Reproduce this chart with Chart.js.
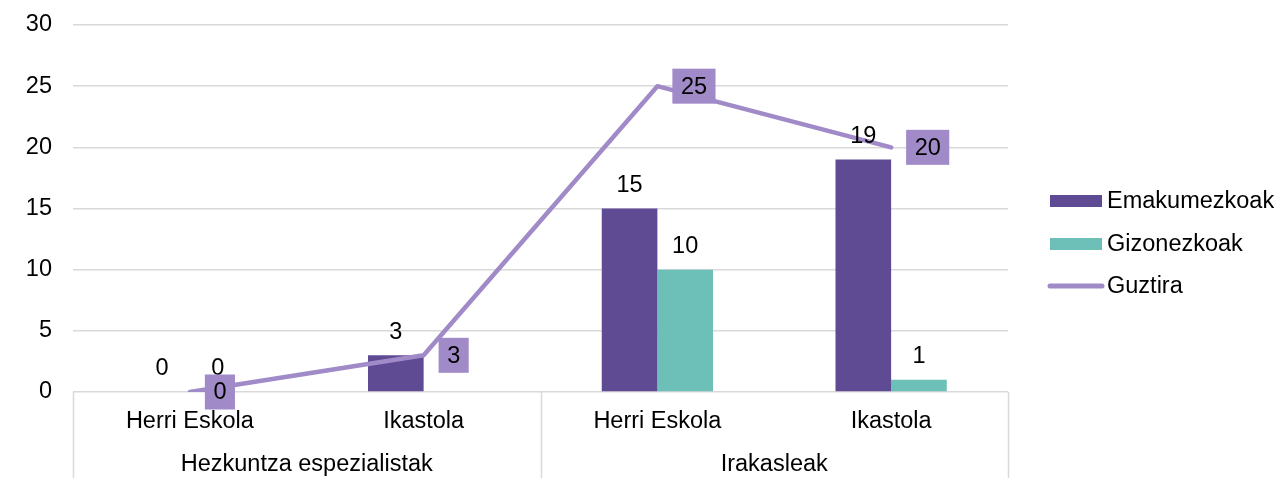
<!DOCTYPE html>
<html>
<head>
<meta charset="utf-8">
<script src="https://cdn.jsdelivr.net/npm/chart.js@4/dist/chart.umd.min.js"></script>
<style>
html,body{margin:0;padding:0;background:#fff;}
#c{display:block;}
</style>
</head>
<body>
<canvas id="c" width="1280" height="484"></canvas>
<script>
const subCategories = ['Herri Eskola', 'Ikastola', 'Herri Eskola', 'Ikastola'];
const groupLabels = ['Hezkuntza espezialistak', 'Irakasleak'];
const groupSpans = [2, 2];
const emakumezkoak = [0, 3, 15, 19];
const gizonezkoak = [0, 0, 10, 1];
const guztira = [0, 3, 25, 20];
const yTicks = [0, 5, 10, 15, 20, 25, 30];
const seriesNames = ['Emakumezkoak', 'Gizonezkoak', 'Guztira'];

const FONT = "'Liberation Sans', Arial, sans-serif";
const FS = 23.5;
const C_EMA = '#5F4A94';
const C_GIZ = '#6CC0B7';
const C_TOT = '#A08AC8';
const C_GRID = '#D9D9D9';

const customPlugin = {
  id: 'custom',
  afterDatasetsDraw(chart) {
    const ctx = chart.ctx;
    const x = chart.scales.x;
    const area = chart.chartArea;
    ctx.save();
    ctx.font = FS + 'px ' + FONT;
    ctx.textAlign = 'center';
    ctx.textBaseline = 'middle';
    // line label boxes (computed first for collision checks)
    const lmeta = chart.getDatasetMeta(2);
    const boxes = lmeta.data.map((el, i) => {
      const t = String(guztira[i]);
      const w = ctx.measureText(t).width + 17;
      const h = 35;
      return { t, x: el.x + 15, y: el.y - h / 2, w, h, cy: el.y };
    });
    // bar labels (skip if label centre lies inside a line label box)
    ctx.fillStyle = '#000';
    [0, 1].forEach(di => {
      const meta = chart.getDatasetMeta(di);
      meta.data.forEach((el, i) => {
        const v = String(chart.data.datasets[di].data[i]);
        const lx = el.x, ly = el.y - 23;
        const hit = boxes.some(b => lx > b.x && lx < b.x + b.w && ly > b.y && ly < b.y + b.h);
        if (!hit) ctx.fillText(v, lx, ly);
      });
    });
    boxes.forEach(b => {
      ctx.fillStyle = C_TOT;
      ctx.fillRect(b.x, b.y, b.w, b.h);
      ctx.fillStyle = '#000';
      ctx.fillText(b.t, b.x + b.w / 2, b.cy + 1);
    });
    // x axis categories
    ctx.strokeStyle = C_GRID;
    ctx.lineWidth = 1.5;
    const bottom = area.bottom;
    const catW = (area.right - area.left) / subCategories.length;
    ctx.fillStyle = '#000';
    subCategories.forEach((s, i) => {
      ctx.fillText(s, x.getPixelForValue(i), bottom + 30);
    });
    let start = 0;
    const seps = [area.left];
    groupLabels.forEach((g, gi) => {
      const end = start + groupSpans[gi];
      const gx = area.left + catW * (start + end) / 2;
      ctx.fillText(g, gx, bottom + 73);
      seps.push(area.left + catW * end);
      start = end;
    });
    seps.forEach(sx => {
      ctx.beginPath();
      ctx.moveTo(Math.round(sx) + 0.5, bottom);
      ctx.lineTo(Math.round(sx) + 0.5, bottom + 86);
      ctx.stroke();
    });
    // legend
    ctx.textAlign = 'left';
    const ly = [201, 244, 286];
    ctx.fillStyle = C_EMA;
    ctx.fillRect(1050, ly[0] - 6, 52, 12);
    ctx.fillStyle = C_GIZ;
    ctx.fillRect(1050, ly[1] - 6, 52, 12);
    ctx.strokeStyle = C_TOT;
    ctx.lineWidth = 5;
    ctx.lineCap = 'round';
    ctx.beginPath();
    ctx.moveTo(1050, ly[2]);
    ctx.lineTo(1102, ly[2]);
    ctx.stroke();
    ctx.fillStyle = '#000';
    seriesNames.forEach((n, i) => ctx.fillText(n, 1107, ly[i] + 1));
    ctx.restore();
  }
};

new Chart(document.getElementById('c'), {
  type: 'bar',
  data: {
    labels: subCategories,
    datasets: [
      { label: seriesNames[0], data: emakumezkoak, backgroundColor: C_EMA, order: 2,
        barPercentage: 1, categoryPercentage: 0.476 },
      { label: seriesNames[1], data: gizonezkoak, backgroundColor: C_GIZ, order: 2,
        barPercentage: 1, categoryPercentage: 0.476 },
      { type: 'line', label: seriesNames[2], data: guztira, borderColor: C_TOT, borderWidth: 4.5,
        pointRadius: 0, tension: 0, borderCapStyle: 'round', borderJoinStyle: 'round', order: 0 }
    ]
  },
  options: {
    responsive: false,
    animation: false,
    devicePixelRatio: 1,
    layout: { padding: { top: 25, right: 272, left: 0, bottom: 0 } },
    plugins: { legend: { display: false }, tooltip: { enabled: false } },
    scales: {
      x: {
        ticks: { display: false },
        grid: { display: false },
        border: { display: false },
        afterFit(s) { s.height = 92; }
      },
      y: {
        min: 0, max: 30,
        afterBuildTicks(s) { s.ticks = yTicks.map(v => ({ value: v })); },
        ticks: { font: { family: FONT, size: FS }, color: '#000', padding: 21 },
        grid: { color: C_GRID, lineWidth: 1.5, drawTicks: false },
        border: { display: false },
        afterFit(s) { s.width = 73; s.paddingTop = 0; s.paddingBottom = 0; }
      }
    }
  },
  plugins: [customPlugin]
});
</script>
</body>
</html>
